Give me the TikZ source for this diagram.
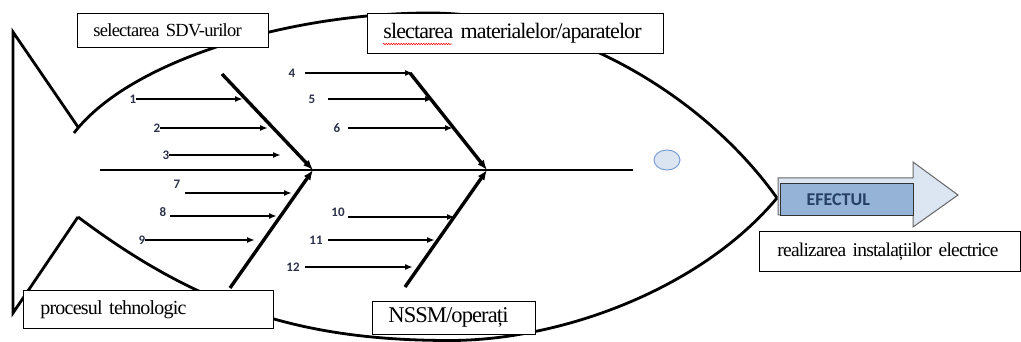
\documentclass[tikz,border=0pt]{standalone}
\usepackage{fontspec}
\setmainfont{Liberation Serif}
\newfontfamily\numfont{Carlito}
\newfontfamily\boxfont{Liberation Serif}[LetterSpace=-4.0, WordSpace=0.7]
\usetikzlibrary{arrows.meta, shapes.geometric, decorations.pathmorphing}

\definecolor{numcol}{RGB}{45,50,75}
\definecolor{effill}{RGB}{149,179,215}
\definecolor{efhead}{RGB}{220,230,242}
\definecolor{eftext}{RGB}{38,64,100}
\definecolor{eyefill}{RGB}{219,229,241}
\definecolor{eyeline}{RGB}{120,160,215}

\begin{document}
\begin{tikzpicture}[x=1pt, y=-1pt,
    body/.style={line width=2.8pt},
    bone/.style={line width=3.4pt, -{Latex[length=10pt,width=8pt]}},
    cause/.style={line width=1.6pt, -{Latex[length=8pt,width=6pt]}},
    num/.style={font=\numfont\bfseries\fontsize{13}{14}\selectfont, text=numcol, inner sep=0pt},
    box/.style={draw, line width=0.8pt, fill=white, anchor=north west, align=left, inner ysep=0pt}]

    \useasboundingbox (0,0) rectangle (1021,342);

    \draw[body] (78,127) -- (13,32) -- (13,313) -- (78,217);
    \draw[body] (74,133) .. controls (130,60) and (290,13) .. (430,13)
        .. controls (560,13) and (700,90) .. (777,198);
    \draw[body] (78,217) .. controls (198,307) and (300,340.5) .. (450,340.5)
        .. controls (560,340.5) and (700,290) .. (777,198);

    \node[ellipse, draw=eyeline, fill=eyefill, line width=1pt, minimum width=26pt, minimum height=20pt] (eye) at (667,160) {};

    \coordinate (tail) at (100,170);
    \coordinate (head) at (633,170);
    \coordinate (j1) at (313,170);
    \coordinate (j2) at (487,170);
    \coordinate (b1) at (222,74);
    \coordinate (b2) at (410,73);
    \coordinate (b3) at (230,288);
    \coordinate (b4) at (405,287);

    \draw[line width=2.6pt] (tail) -- (head);
    \draw[bone] (b1) -- (j1);
    \draw[bone] (b2) -- (j2);
    \draw[bone] (b3) -- (j1);
    \draw[bone] (b4) -- (j2);

    \node[num] (n1) at (133,99) {1};
    \node[num] (n2) at (157,128) {2};
    \node[num] (n3) at (166,155) {3};
    \node[num] (n4) at (292,73) {4};
    \node[num] (n5) at (312,99) {5};
    \node[num] (n6) at (337,128) {6};
    \node[num] (n7) at (177,184) {7};
    \node[num] (n8) at (163,212) {8};
    \node[num] (n9) at (142,240) {9};
    \node[num] (n10) at (338,212) {10};
    \node[num] (n11) at (316,240) {11};
    \node[num] (n12) at (293,267) {12};

    \coordinate (f4) at (305,73);
    \coordinate (f5) at (328,99);
    \coordinate (f6) at (348,128);
    \coordinate (f7) at (185,193);
    \coordinate (f8) at (170,216);
    \coordinate (f10) at (348,217);
    \coordinate (f11) at (328,240);
    \coordinate (f12) at (305,267);

    \coordinate (t1) at (243,99);
    \coordinate (t2) at (268,128);
    \coordinate (t3) at (281,155);
    \coordinate (t4) at (413,73);
    \coordinate (t5) at (433,99);
    \coordinate (t6) at (453,128);
    \coordinate (t7) at (292,193);
    \coordinate (t8) at (277,216);
    \coordinate (t9) at (255,240);
    \coordinate (t10) at (455,217);
    \coordinate (t11) at (435,240);
    \coordinate (t12) at (413,267);

    \draw[cause] (n1) -- (t1);
    \draw[cause] (n2) -- (t2);
    \draw[cause] (n3) -- (t3);
    \draw[cause] (f4) -- (t4);
    \draw[cause] (f5) -- (t5);
    \draw[cause] (f6) -- (t6);
    \draw[cause] (f7) -- (t7);
    \draw[cause] (f8) -- (t8);
    \draw[cause] (n9) -- (t9);
    \draw[cause] (f10) -- (t10);
    \draw[cause] (f11) -- (t11);
    \draw[cause] (f12) -- (t12);

    \node[box, text width=159pt, inner xsep=16pt, minimum height=34pt, font=\boxfont\fontsize{18.5}{20}\selectfont] (sdv) at (77,13) {selectarea SDV-urilor};
    \node[box, text width=264pt, inner xsep=16pt, minimum height=40pt, font=\boxfont\fontsize{22}{24}\selectfont] (mat) at (367,13) {slectarea materialelor/aparatelor};
    \node[box, text width=216pt, inner xsep=17pt, minimum height=38pt, font=\boxfont\fontsize{20}{22}\selectfont] (proc) at (23,290) {procesul tehnologic};
    \node[box, text width=131pt, inner xsep=16pt, minimum height=33pt, font=\boxfont\fontsize{22.5}{24}\selectfont] (nssm) at (372,301) {NSSM/operați};
    \node[box, text width=225pt, inner xsep=18pt, minimum height=40pt, font=\boxfont\fontsize{19.5}{21}\selectfont] (real) at (759,231) {realizarea instalațiilor electrice};

    \draw[red, line width=0.5pt, decorate, decoration={snake, amplitude=0.8pt, segment length=2.5pt}] (383,44) -- (452,44);

    \draw[fill=efhead, draw=gray!80!black, line width=1pt] (778,178) -- (913,178) -- (913,162) -- (958,195) -- (913,227) -- (913,215) -- (778,215) -- cycle;
    \node[fill=effill, draw=black!80, line width=1pt, anchor=north west, text width=81pt, inner xsep=26pt, inner ysep=0pt, minimum height=32pt, align=left, text=eftext, font=\numfont\bfseries\fontsize{18}{20}\selectfont] (effect) at (780,183) {EFECTUL};

\end{tikzpicture}
\end{document}
